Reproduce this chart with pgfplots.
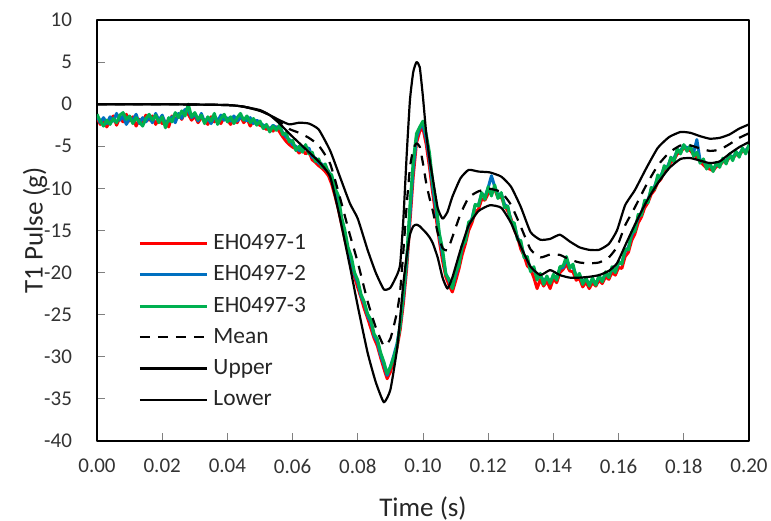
\documentclass[border=0pt]{standalone}
\usepackage{fontspec}
\setmainfont{Carlito}
\usepackage{pgfplots}
\usepackage{pgfplotstable}
\pgfplotsset{compat=1.18}
\definecolor{exred}{RGB}{255,0,0}
\definecolor{exblue}{RGB}{0,112,192}
\definecolor{exgreen}{RGB}{0,176,80}

% x  red  blue  green
\pgfplotstableread{
x r b g
0.000 -1.6 -1.4 -1.2
0.001 -2.4 -2.2 -2.0
0.002 -1.8 -1.6 -2.6
0.003 -2.7 -2.3 -1.9
0.004 -1.9 -1.5 -2.4
0.005 -1.4 -2.0 -1.7
0.006 -2.5 -1.1 -2.2
0.007 -1.6 -1.9 -1.3
0.008 -2.1 -1.4 -1.0
0.009 -1.2 -2.4 -1.8
0.010 -2.0 -1.7 -1.4
0.011 -1.5 -1.9 -2.3
0.012 -2.6 -1.2 -1.6
0.013 -1.8 -2.3 -2.1
0.014 -2.2 -1.6 -2.6
0.015 -1.3 -2.1 -1.7
0.016 -1.9 -1.5 -1.2
0.017 -1.4 -2.2 -1.9
0.018 -2.4 -1.1 -1.3
0.019 -1.7 -1.9 -2.2
0.020 -2.3 -1.3 -1.5
0.021 -2.0 -2.3 -2.8
0.022 -2.7 -2.0 -1.6
0.023 -1.4 -1.5 -2.1
0.024 -1.9 -2.2 -1.0
0.025 -1.2 -1.1 -1.6
0.026 -1.8 -1.7 -0.8
0.027 -0.9 -0.6 -1.4
0.028 -1.2 -0.7 0.0
0.029 -1.9 -1.6 -1.5
0.030 -1.4 -1.2 -1.0
0.031 -2.2 -2.0 -1.8
0.032 -1.6 -1.1 -1.3
0.033 -1.9 -2.1 -2.3
0.034 -2.4 -1.7 -1.5
0.035 -1.5 -2.3 -2.0
0.036 -2.1 -1.4 -1.1
0.037 -1.8 -2.0 -2.4
0.038 -2.3 -1.3 -1.7
0.039 -1.5 -1.9 -1.2
0.040 -1.9 -1.6 -2.1
0.041 -2.4 -2.0 -1.5
0.042 -1.7 -1.4 -2.3
0.043 -2.2 -2.0 -1.6
0.044 -1.4 -1.6 -1.1
0.045 -2.2 -1.7 -1.9
0.046 -1.7 -2.0 -1.4
0.047 -2.6 -1.6 -2.2
0.048 -1.9 -2.3 -1.7
0.049 -2.3 -1.9 -2.5
0.050 -2.5 -2.2 -2.0
0.051 -2.7 -2.5 -2.9
0.052 -3.0 -2.6 -2.4
0.053 -2.8 -3.0 -3.3
0.054 -3.2 -2.5 -2.6
0.055 -2.7 -2.8 -3.1
0.056 -3.3 -2.6 -2.5
0.057 -3.9 -3.4 -3.6
0.058 -4.4 -3.9 -3.4
0.059 -4.8 -4.2 -4.5
0.060 -5.1 -4.8 -4.3
0.061 -5.3 -5.0 -5.5
0.062 -5.8 -5.5 -5.0
0.063 -5.4 -5.0 -5.7
0.064 -5.9 -5.3 -4.8
0.065 -5.6 -5.2 -5.9
0.066 -6.6 -6.3 -5.7
0.067 -6.9 -6.4 -6.8
0.068 -7.3 -7.0 -6.5
0.069 -7.6 -7.1 -7.5
0.070 -8.0 -7.7 -7.1
0.071 -8.5 -7.9 -8.1
0.072 -9.5 -9.0 -8.4
0.073 -10.9 -10.3 -10.0
0.074 -12.4 -11.7 -10.8
0.075 -14.2 -13.6 -13.4
0.076 -16.0 -15.3 -14.9
0.077 -17.6 -17.2 -17.0
0.078 -19.2 -18.6 -18.1
0.079 -20.5 -20.2 -20.0
0.080 -21.8 -21.2 -20.9
0.081 -23.0 -22.8 -22.6
0.082 -24.3 -23.7 -23.5
0.083 -25.4 -25.1 -24.9
0.084 -26.6 -25.9 -25.6
0.085 -27.8 -27.5 -27.3
0.086 -28.7 -28.2 -27.9
0.087 -30.1 -29.8 -29.5
0.088 -31.4 -30.9 -30.6
0.089 -32.6 -32.2 -32.0
0.090 -31.8 -31.2 -31.2
0.091 -30.5 -29.9 -30.1
0.092 -29.0 -28.5 -28.8
0.093 -26.8 -26.3 -26.2
0.094 -23.6 -22.9 -22.4
0.095 -19.5 -18.8 -18.3
0.096 -14.0 -13.1 -12.0
0.097 -8.6 -7.6 -6.8
0.098 -4.6 -4.0 -3.5
0.099 -3.2 -2.8 -2.7
0.100 -2.9 -2.5 -2.0
0.101 -4.8 -4.1 -3.6
0.102 -7.5 -6.6 -5.8
0.103 -10.6 -9.9 -9.3
0.104 -13.4 -12.5 -11.7
0.105 -16.2 -15.6 -15.3
0.106 -18.6 -17.8 -17.2
0.107 -20.5 -20.1 -20.2
0.108 -21.5 -21.0 -20.8
0.109 -22.3 -21.8 -21.9
0.110 -21.0 -20.3 -19.9
0.111 -19.6 -19.0 -19.2
0.112 -17.9 -17.0 -16.8
0.113 -16.6 -16.1 -16.3
0.114 -15.0 -14.3 -14.0
0.115 -14.1 -13.6 -13.8
0.116 -12.8 -12.0 -11.9
0.117 -12.5 -12.0 -12.1
0.118 -11.3 -10.6 -10.5
0.119 -11.4 -11.0 -11.3
0.120 -10.6 -9.9 -9.8
0.121 -10.5 -8.5 -10.9
0.122 -10.1 -9.8 -9.6
0.123 -11.1 -10.8 -11.2
0.124 -11.0 -10.6 -10.5
0.125 -12.0 -11.9 -12.3
0.126 -12.7 -12.2 -12.1
0.127 -13.6 -13.9 -14.0
0.128 -14.9 -14.3 -14.1
0.129 -15.8 -15.9 -16.1
0.130 -17.2 -16.5 -16.2
0.131 -18.0 -18.0 -18.2
0.132 -19.2 -18.4 -18.1
0.133 -19.6 -19.7 -19.9
0.134 -20.6 -19.6 -19.3
0.135 -21.9 -20.6 -20.9
0.136 -20.8 -20.3 -20.1
0.137 -21.6 -21.0 -21.4
0.138 -21.0 -20.6 -20.4
0.139 -21.9 -21.1 -21.3
0.140 -20.7 -20.4 -20.2
0.141 -21.2 -20.6 -20.9
0.142 -20.0 -19.5 -19.3
0.143 -19.6 -19.4 -19.2
0.144 -19.0 -18.4 -18.1
0.145 -19.8 -19.3 -19.5
0.146 -19.9 -19.3 -19.0
0.147 -20.9 -20.4 -20.6
0.148 -20.7 -20.3 -20.1
0.149 -21.7 -21.0 -21.4
0.150 -21.1 -20.8 -20.6
0.151 -21.9 -21.4 -21.6
0.152 -21.2 -20.8 -20.6
0.153 -21.6 -21.4 -21.5
0.154 -20.9 -20.5 -20.3
0.155 -21.3 -21.0 -21.1
0.156 -20.5 -20.1 -19.9
0.157 -20.8 -20.4 -20.6
0.158 -20.0 -19.6 -19.3
0.159 -20.3 -19.8 -20.0
0.160 -19.4 -18.9 -18.7
0.161 -19.5 -18.8 -19.0
0.162 -18.1 -17.5 -17.2
0.163 -17.6 -17.0 -17.3
0.164 -16.2 -15.6 -15.2
0.165 -15.4 -14.8 -15.1
0.166 -14.1 -13.5 -13.1
0.167 -13.4 -12.9 -13.2
0.168 -12.3 -11.8 -11.4
0.169 -11.7 -11.4 -11.7
0.170 -10.7 -10.2 -9.9
0.171 -10.2 -9.8 -10.1
0.172 -9.3 -8.7 -8.4
0.173 -8.9 -8.5 -8.8
0.174 -8.0 -7.5 -7.3
0.175 -7.7 -7.4 -7.8
0.176 -6.9 -6.5 -6.3
0.177 -6.6 -6.4 -6.8
0.178 -5.9 -5.5 -5.3
0.179 -5.7 -5.5 -5.9
0.180 -5.2 -4.9 -4.8
0.181 -5.4 -5.2 -5.6
0.182 -5.5 -5.1 -4.9
0.183 -6.0 -5.8 -6.2
0.184 -6.3 -4.2 -5.7
0.185 -6.8 -6.7 -7.0
0.186 -7.2 -6.7 -6.5
0.187 -7.6 -7.4 -7.7
0.188 -7.7 -7.2 -7.0
0.189 -7.9 -7.8 -8.0
0.190 -7.4 -7.1 -6.9
0.191 -7.3 -7.2 -7.5
0.192 -6.8 -6.6 -6.4
0.193 -6.9 -6.8 -7.1
0.194 -6.3 -6.1 -5.9
0.195 -6.4 -6.3 -6.7
0.196 -6.0 -5.8 -5.6
0.197 -6.0 -5.9 -6.3
0.198 -5.6 -5.4 -5.2
0.199 -5.6 -5.5 -5.9
0.200 -5.1 -5.0 -4.8
}\tests

% x  upper  mean  lower
\pgfplotstableread{
x u m l
0.000 0.0 0.0 0.0
0.020 0.0 0.0 0.0
0.040 -0.1 -0.1 -0.1
0.045 -0.3 -0.3 -0.3
0.050 -0.8 -0.75 -0.7
0.053 -1.3 -1.3 -1.3
0.056 -1.9 -2.1 -2.3
0.059 -2.4 -2.95 -3.5
0.062 -2.2 -3.4 -4.6
0.065 -2.3 -4.0 -5.7
0.068 -3.0 -4.9 -6.8
0.0715 -5.5 -7.05 -8.6
0.0745 -8.6 -11.05 -13.5
0.0776 -11.8 -15.55 -19.3
0.080 -13.6 -18.8 -24.0
0.083 -17.3 -23.4 -29.5
0.0855 -20.0 -26.5 -33.0
0.088 -22.0 -28.7 -35.4
0.090 -21.8 -27.85 -33.9
0.092 -20.3 -24.75 -29.2
0.093 -19.0 -22.15 -25.3
0.094 -13.5 -17.35 -21.2
0.095 -6.0 -12.0 -18.0
0.096 0.5 -7.5 -15.5
0.097 3.8 -5.35 -14.5
0.098 5.0 -4.65 -14.3
0.099 4.4 -5.05 -14.5
0.100 0.8 -7.05 -14.9
0.101 -3.5 -9.4 -15.3
0.102 -6.5 -11.15 -15.8
0.103 -8.8 -12.65 -16.5
0.1045 -12.3 -15.25 -18.2
0.106 -13.6 -17.1 -20.6
0.1075 -12.8 -17.35 -21.9
0.109 -11.0 -15.8 -20.6
0.1115 -8.8 -13.05 -17.3
0.114 -7.8 -11.1 -14.4
0.117 -8.0 -10.35 -12.7
0.1205 -8.1 -10.05 -12.0
0.124 -8.6 -10.45 -12.3
0.127 -9.8 -11.95 -14.1
0.130 -12.2 -14.55 -16.9
0.133 -15.2 -17.25 -19.3
0.136 -16.1 -18.2 -20.3
0.139 -16.0 -17.85 -19.7
0.142 -15.5 -17.9 -20.3
0.145 -16.3 -18.45 -20.6
0.148 -17.0 -18.8 -20.6
0.151 -17.3 -18.9 -20.5
0.154 -17.3 -18.8 -20.3
0.157 -16.6 -18.2 -19.8
0.1595 -15.0 -16.95 -18.9
0.162 -12.0 -14.4 -16.8
0.165 -10.2 -12.25 -14.3
0.1685 -7.6 -9.6 -11.6
0.172 -5.2 -7.3 -9.4
0.1755 -3.9 -5.75 -7.6
0.179 -3.3 -4.9 -6.5
0.182 -3.4 -4.9 -6.4
0.185 -3.8 -5.25 -6.7
0.188 -4.1 -5.55 -7.0
0.191 -4.0 -5.4 -6.8
0.194 -3.6 -4.75 -5.9
0.197 -2.9 -4.0 -5.1
0.200 -2.4 -3.45 -4.5
}\bands

\begin{document}
\begin{tikzpicture}
\begin{axis}[
  scale only axis,
  width=326pt, height=210.5pt,
  xmin=0, xmax=0.2, ymin=-40, ymax=10,
  xtick={0,0.02,0.04,0.06,0.08,0.1,0.12,0.14,0.16,0.18,0.2},
  ytick={-40,-35,-30,-25,-20,-15,-10,-5,0,5,10},
  xtick pos=left, ytick pos=left,
  tick align=inside,
  major tick length=4pt,
  tick style={gray, line width=0.5pt},
  axis line style={black, line width=0.9pt},
  /pgf/number format/assume math mode=true,
  xticklabel style={/pgf/number format/fixed, /pgf/number format/fixed zerofill, /pgf/number format/precision=2, yshift=-5.5pt},
  yticklabel style={xshift=-9pt},
  tick label style={font=\fontsize{10.5}{12}\selectfont, text=black!80},
  xlabel={Time (s)},
  ylabel={T1 Pulse (g)},
  label style={font=\fontsize{13.5}{15}\selectfont, text=black!85},
  xlabel style={at={(axis description cs:0.5,0)}, anchor=center, yshift=-34pt},
  ylabel style={at={(axis description cs:0,0.5)}, anchor=center, rotate=0, yshift=31pt},
  legend image code/.code={\draw[#1] (0pt,0pt) -- (33.5pt,0pt);},
  legend cell align=left,
  legend style={draw=none, fill=none, inner sep=0pt,
    at={(rel axis cs:0.063,0.498)}, anchor=north west,
    font=\fontsize{11.7}{14}\selectfont, text=black!85,
    nodes={inner sep=1pt, text height=8pt, text depth=2pt},
    row sep=3.6pt,
    /tikz/every odd column/.append style={column sep=1.5pt}},
  line join=round,
]
\addplot[exred, line width=1.5pt] table[x=x, y=r] {\tests};
\addlegendentry{EH0497-1}
\addplot[exblue, line width=1.5pt] table[x=x, y=b] {\tests};
\addlegendentry{EH0497-2}
\addplot[exgreen, line width=1.5pt] table[x=x, y=g] {\tests};
\addlegendentry{EH0497-3}
\addplot[black, line width=1.1pt, dash pattern=on 5pt off 4pt, smooth, tension=0.3] table[x=x, y=m] {\bands};
\addlegendentry{Mean}
\addplot[black, line width=1.1pt, smooth, tension=0.3] table[x=x, y=u] {\bands};
\addlegendentry{Upper}
\addplot[black, line width=1.1pt, smooth, tension=0.3] table[x=x, y=l] {\bands};
\addlegendentry{Lower}
\coordinate (sw) at (rel axis cs:0,0);
\coordinate (ne) at (rel axis cs:1,1);
\end{axis}
\pgfresetboundingbox
\path ([xshift=-48.5pt,yshift=-40pt]sw) rectangle ([xshift=11pt,yshift=10pt]ne);
\end{tikzpicture}
\end{document}
